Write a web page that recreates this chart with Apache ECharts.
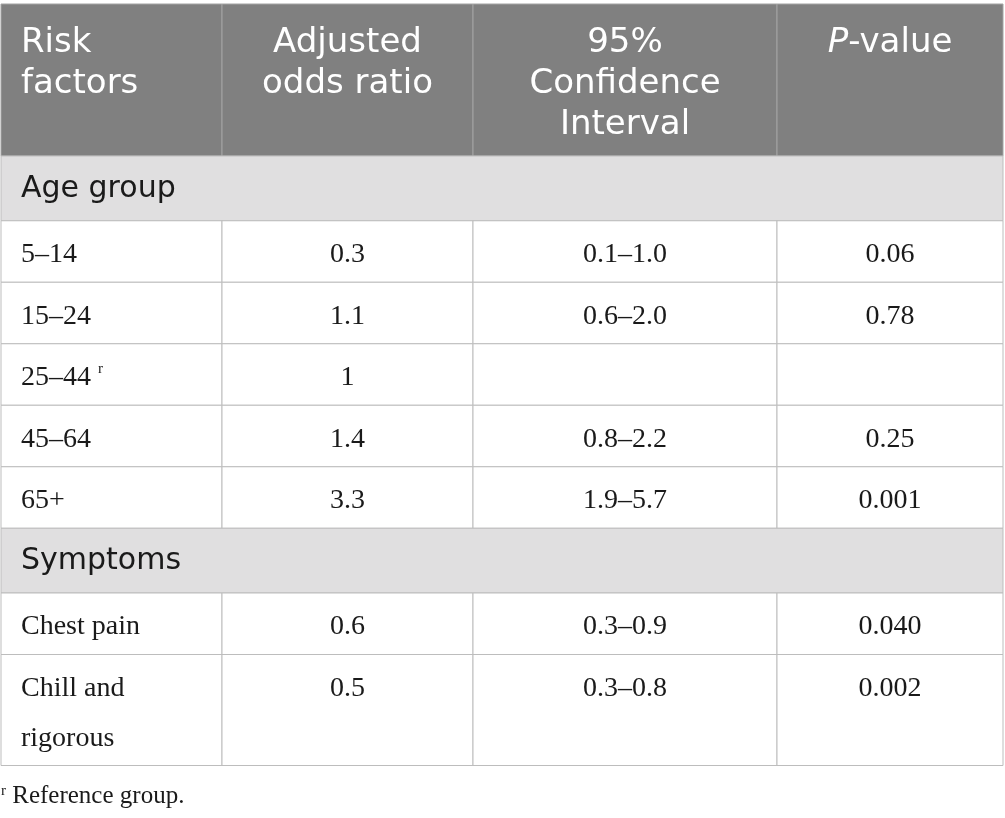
<!DOCTYPE html>
<html>
<head>
<meta charset="utf-8">
<script src="https://cdn.jsdelivr.net/npm/echarts@6/dist/echarts.min.js"></script>
<style>
  html, body { margin: 0; padding: 0; background: #ffffff; }
  #chart { width: 1005px; height: 818px; }
</style>
</head>
<body>
<div id="chart"></div>
<script>
// ---------------- data ----------------
const headers = ['Risk\nfactors', 'Adjusted\nodds ratio', '95%\nConfidence\nInterval', '{it|P}-value'];
const groups = ['Age group', 'Symptoms'];
const riskFactors = ['5–14', '15–24', '25–44', '45–64', '65+', 'Chest pain', 'Chill and\nrigorous'];
const rowGroup = [0, 0, 0, 0, 0, 1, 1];
const referenceRow = 2;
const oddsRatios = ['0.3', '1.1', '1', '1.4', '3.3', '0.6', '0.5'];
const ciLow = [0.1, 0.6, null, 0.8, 1.9, 0.3, 0.3];
const ciHigh = [1.0, 2.0, null, 2.2, 5.7, 0.9, 0.8];
const pValues = ['0.06', '0.78', '', '0.25', '0.001', '0.040', '0.002'];
const footnote = 'Reference group.';

// ---------------- layout ----------------
const W = 1005, H = 818;
const colEdges = [1, 222, 473, 777, 1003];
const tableTop = 4;
const headerH = 152;
const groupH = 64.75;
const lineRowH = 61.5;
const extraLineH = 49.5;
const padX = 20;

const C = {
  headBg: '#808080', headLine: '#a3a3a3', headText: '#ffffff',
  groupBg: '#e0dfe0', line: '#bdbdbd', text: '#1a1a1a'
};
const SANS = '"DejaVu Sans", "Open Sans", sans-serif';
const SERIF = '"Liberation Serif", "DejaVu Serif", serif';

// Build row list: header, group rows, data rows
const rows = [];
let y = tableTop;
rows.push({ kind: 'header', top: y, bottom: y + headerH }); y += headerH;
groups.forEach((g, gi) => {
  rows.push({ kind: 'group', label: g, top: y, bottom: y + groupH }); y += groupH;
  riskFactors.forEach((rf, i) => {
    if (rowGroup[i] !== gi) return;
    const lines = rf.split('\n').length;
    const h = lineRowH + (lines - 1) * extraLineH;
    rows.push({ kind: 'data', i: i, top: y, bottom: y + h }); y += h;
  });
});
rows.push({ kind: 'foot', top: y, bottom: y + 52 });

function ciText(i) {
  if (ciLow[i] == null) return '';
  return ciLow[i].toFixed(1) + '–' + ciHigh[i].toFixed(1);
}

const seriesData = rows.map((r, k) => [k, r.top, r.bottom]);

function renderItem(params, api) {
  const r = rows[api.value(0)];
  const top = api.value(1), bottom = api.value(2);
  const children = [];
  const px = (xv, yv) => api.coord([xv, yv]);

  function cellRect(x0, x1, fill, stroke) {
    const a = px(x0, top), b = px(x1, bottom);
    children.push({
      type: 'rect',
      shape: { x: a[0], y: a[1], width: b[0] - a[0], height: b[1] - a[1] },
      style: { fill: fill, stroke: stroke, lineWidth: 1 }
    });
  }

  if (r.kind === 'header') {
    for (let c = 0; c < 4; c++) {
      cellRect(colEdges[c], colEdges[c + 1], C.headBg, C.headLine);
      const left = c === 0;
      const p = px(left ? colEdges[c] + padX : (colEdges[c] + colEdges[c + 1]) / 2, top + 19);
      children.push({
        type: 'text',
        style: {
          text: headers[c], x: p[0], y: p[1],
          fill: C.headText, fontFamily: SANS, fontSize: 34, lineHeight: 41,
          align: left ? 'left' : 'center', verticalAlign: 'top',
          rich: { it: { fontStyle: 'italic', fontFamily: SANS, fontSize: 34, lineHeight: 41, fill: C.headText } }
        }
      });
    }
  } else if (r.kind === 'group') {
    cellRect(colEdges[0], colEdges[4], C.groupBg, C.line);
    const p = px(colEdges[0] + padX, (top + bottom) / 2 + 1);
    children.push({
      type: 'text',
      style: { text: r.label, x: p[0], y: p[1], fill: C.text, fontFamily: SANS, fontSize: 30,
               align: 'left', verticalAlign: 'middle' }
    });
  } else if (r.kind === 'data') {
    const i = r.i;
    const cells = [
      i === referenceRow ? riskFactors[i] + ' {sup|r}' : riskFactors[i],
      oddsRatios[i], ciText(i), pValues[i]
    ];
    for (let c = 0; c < 4; c++) {
      cellRect(colEdges[c], colEdges[c + 1], '#ffffff', C.line);
      const left = c === 0;
      const p = px(left ? colEdges[c] + padX : (colEdges[c] + colEdges[c + 1]) / 2, top + 9);
      children.push({
        type: 'text',
        style: {
          text: cells[c], x: p[0], y: p[1], fill: C.text, fontFamily: SERIF, fontSize: 28,
          lineHeight: 50, align: left ? 'left' : 'center', verticalAlign: 'top',
          rich: {
            sup: { fontFamily: SERIF, fontSize: 15, fill: C.text, verticalAlign: 'top', padding: [9, 0, 0, 0] }
          }
        }
      });
    }
  } else if (r.kind === 'foot') {
    const p = px(colEdges[0], top + 31);
    children.push({
      type: 'text',
      style: {
        text: '{sup|r} ' + footnote, x: p[0], y: p[1], fill: C.text, fontFamily: SERIF, fontSize: 25,
        align: 'left', verticalAlign: 'middle',
        rich: {
          sup: { fontFamily: SERIF, fontSize: 15, fill: C.text, verticalAlign: 'top', lineHeight: 13 }
        }
      }
    });
  }
  return { type: 'group', children: children };
}

const chart = echarts.init(document.getElementById('chart'), null, { renderer: 'canvas' });
chart.setOption({
  animation: false,
  backgroundColor: '#ffffff',
  grid: { left: 0, right: 0, top: 0, bottom: 0 },
  xAxis: { type: 'value', min: 0, max: W, show: false },
  yAxis: { type: 'value', min: 0, max: H, inverse: true, show: false },
  series: [{
    type: 'custom',
    silent: true,
    clip: false,
    renderItem: renderItem,
    encode: { x: 0, y: 1 },
    data: seriesData
  }]
});
</script>
</body>
</html>
